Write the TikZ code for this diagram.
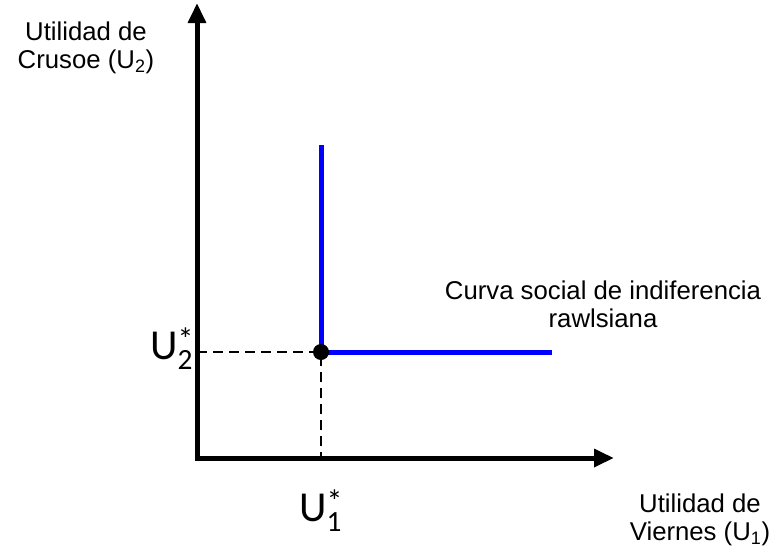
\documentclass[tikz,border=0pt]{standalone}
\usepackage{fontspec}
\setmainfont{Liberation Sans}
\newfontfamily\carlito{Carlito}
\usetikzlibrary{arrows.meta}

% optimum label: U with star and index
\newcommand{\ustar}[1]{{\carlito\fontsize{32}{32}\selectfont U}%
  {\carlito\rlap{\fontsize{24}{24}\selectfont\raisebox{6.5pt}{*}}%
  \fontsize{22}{22}\selectfont\raisebox{-7.5pt}{#1}}}

\begin{document}
\begin{tikzpicture}[x=0.75pt,y=-0.75pt,
    axis/.style={line width=3.75pt, {Triangle[length=15pt,width=13pt]}-{Triangle[length=15pt,width=13pt]}},
    rawls/.style={blue, line width=3.75pt},
    guide/.style={line width=1.5pt, dash pattern=on 7.5pt off 4.5pt},
    lbl/.style={align=center, font=\fontsize{19.3}{21}\selectfont}]

        \useasboundingbox (0,0) rectangle (777,554);

        % Draw axes
        \coordinate (O) at (197,458);
        \coordinate (ytop) at (197,3);
        \coordinate (xend) at (614,458);
        \draw[axis] (ytop) -- (O) -- (xend);

        % Axis labels
        \node[lbl] (ylab) at (86,48) {Utilidad de\\Crusoe (U\textsubscript{2})};
        \node[lbl] (xlab) at (700,520) {Utilidad de\\Viernes (U\textsubscript{1})};

        % Draw rawlsian indifference curve
        \coordinate (E) at (321,352);
        \coordinate (vtop) at (321,145);
        \coordinate (hend) at (552,352);
        \draw[rawls] (vtop) -- (E) -- (hend);
        \node[lbl] (curva) at (603,304) {Curva social de indiferencia\\rawlsiana};

        % Draw guide lines and optimum
        \draw[guide] (O |- E) -- (E) -- (E |- O);
        \fill[black] (E) circle (6pt);

        \node[anchor=base west, inner sep=0pt] (u2) at (150,359) {\ustar{2}};
        \node[anchor=base west, inner sep=0pt] (u1) at (299,521) {\ustar{1}};

\end{tikzpicture}
\end{document}
